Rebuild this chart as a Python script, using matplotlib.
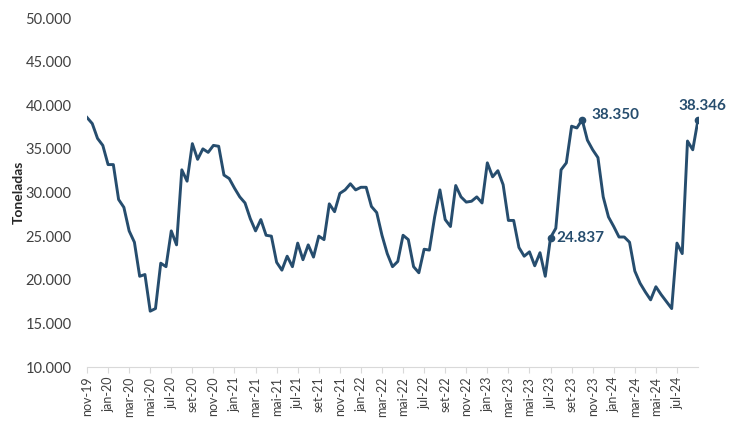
import matplotlib
matplotlib.use("Agg")
import matplotlib.pyplot as plt

# Semi-monthly values (tonnes), from nov-19 to set-24
values_k = [
    38.6, 37.9, 36.2, 35.4, 33.2, 33.2, 29.2, 28.3, 25.6, 24.3,
    20.4, 20.6, 16.4, 16.7, 21.9, 21.5, 25.6, 24.0, 32.6, 31.3,
    35.6, 33.8, 35.0, 34.6, 35.4, 35.3, 32.0, 31.6, 30.5, 29.5,
    28.8, 27.0, 25.6, 26.9, 25.1, 25.0, 22.0, 21.1, 22.7, 21.5,
    24.2, 22.3, 24.0, 22.6, 25.0, 24.6, 28.7, 27.8, 29.9, 30.3,
    31.0, 30.3, 30.6, 30.6, 28.4, 27.7, 25.1, 23.0, 21.5, 22.1,
    25.1, 24.6, 21.5, 20.8, 23.5, 23.4, 27.2, 30.3, 26.9, 26.1,
    30.8, 29.5, 28.9, 29.0, 29.5, 28.8, 33.4, 31.8, 32.5, 30.9,
    26.8, 26.8, 23.7, 22.7, 23.2, 21.6, 23.1, 20.4, 24.837, 25.9,
    32.6, 33.4, 37.6, 37.4, 38.350, 36.0, 34.9, 34.0, 29.5, 27.2,
    26.1, 24.9, 24.9, 24.3, 21.0, 19.6, 18.6, 17.7, 19.2, 18.3,
    17.5, 16.7, 24.2, 23.0, 35.9, 34.9, 38.346,
]
values = [v * 1000 for v in values_k]

tick_labels = ["nov-19", "jan-20", "mar-20", "mai-20", "jul-20", "set-20", "nov-20",
               "jan-21", "mar-21", "mai-21", "jul-21", "set-21", "nov-21",
               "jan-22", "mar-22", "mai-22", "jul-22", "set-22", "nov-22",
               "jan-23", "mar-23", "mai-23", "jul-23", "set-23", "nov-23",
               "jan-24", "mar-24", "mai-24", "jul-24"]
tick_step = 4

highlight_idx = [88, 94, 116]
highlight_text = ["24.837", "38.350", "38.346"]

yticks = [10000, 15000, 20000, 25000, 30000, 35000, 40000, 45000, 50000]

color = "#264D6E"
plt.rcParams['font.family'] = ['Lato', 'DejaVu Sans']

fig = plt.figure(figsize=(7.5, 4.33), dpi=100)
ax = fig.add_axes([0.116, 0.1524, 0.8147, 0.806])

x = list(range(len(values)))
ax.plot(x, values, color=color, lw=2.1, solid_joinstyle='round')
ax.plot(highlight_idx, [values[i] for i in highlight_idx], 'o', color=color, ms=4.5)

ax.set_xlim(0, len(values) - 1)
ax.set_ylim(10000, 50000)
ax.set_yticks(yticks)
ax.set_yticklabels([f"{v:,.0f}".replace(",", ".") for v in yticks], fontsize=10.5, color="#404040")
ax.tick_params(axis='y', length=0, pad=11)

ax.set_xticks([i * tick_step for i in range(len(tick_labels))])
ax.set_xticklabels(tick_labels, rotation=90, fontsize=9, color="#404040")
ax.tick_params(axis='x', length=4, color="#D9D9D9", pad=3)

for s in ['top', 'right', 'left']:
    ax.spines[s].set_visible(False)
ax.spines['bottom'].set_color("#D9D9D9")

ax.set_ylabel("Toneladas", fontsize=10, fontweight='bold', color="#262626")
ax.yaxis.set_label_coords(-0.102, 0.5)

# annotations
ax.annotate(highlight_text[0], (highlight_idx[0], values[highlight_idx[0]]), xytext=(4, 0),
            textcoords='offset points', ha='left', va='center', fontsize=11,
            fontweight='bold', color=color)
ax.annotate(highlight_text[1], (highlight_idx[1], values[highlight_idx[1]]), xytext=(7, 3),
            textcoords='offset points', ha='left', va='center', fontsize=11,
            fontweight='bold', color=color)
ax.annotate(highlight_text[2], (highlight_idx[2], values[highlight_idx[2]]), xytext=(3, 5),
            textcoords='offset points', ha='center', va='bottom', fontsize=11,
            fontweight='bold', color=color)

fig.savefig("out.png", dpi=100)
